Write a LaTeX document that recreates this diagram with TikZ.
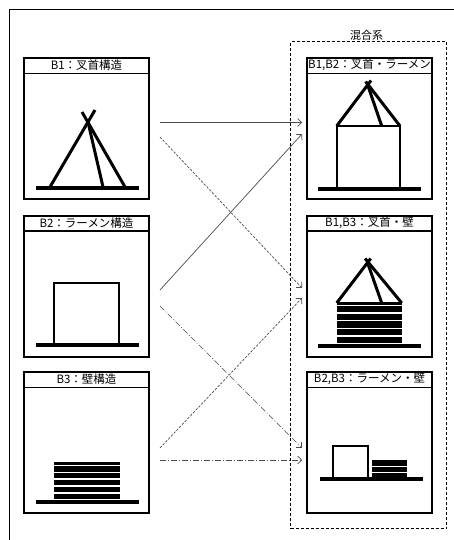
\documentclass[tikz,border=0pt]{standalone}
\usepackage{fontspec}
\setmainfont{Noto Sans CJK JP}
\usetikzlibrary{arrows.meta,positioning}

\begin{document}
\begin{tikzpicture}[x=1pt,y=-1pt,
  panel/.style={draw, line width=2pt, minimum width=125pt, minimum height=141pt, inner sep=0pt},
  heading/.style={anchor=north, minimum width=125pt, minimum height=16pt, inner sep=0pt,
    font=\fontsize{11.5}{13}\selectfont},
  rule/.style={line width=1.3pt},
  leg/.style={line width=3pt},
  post/.style={line width=2.2pt},
  ground/.style={line width=3.8pt},
  flow/.style={-{Straight Barb[length=4pt,width=8pt]}, line width=0.7pt, black!70},
  flowdash/.style={flow, dash pattern=on 2.5pt off 1.5pt},
  flowdot/.style={flow, dash pattern=on 6pt off 2pt on 1pt off 2pt}]
  \useasboundingbox (0,0) rectangle (454,540);

  % outer frame
  \draw[rule] (9.5,540) -- (9.5,9.5) -- (454,9.5);

  % mixed group
  \node[draw, line width=1pt, dash pattern=on 3pt off 2pt, minimum width=156pt, minimum height=487pt] (mix) at (368.7,285.3) {};
  \node[anchor=south, inner sep=0.5pt, xshift=-2pt, font=\fontsize{11}{13}\selectfont] (mixname) at (mix.north) {混合系};

  % panels
  \node[panel] (b1) at (86.5,128.5) {};
  \node[panel] (b2) at (86.5,286) {};
  \node[panel] (b3) at (86.5,442.5) {};
  \node[panel] (r12) at (369.5,128.5) {};
  \node[panel] (r13) at (369.5,286) {};
  \node[panel] (r23) at (369.5,442.5) {};

  \node[heading] (t1) at (b1.north) {B1：叉首構造};
  \node[heading] (t2) at (b2.north) {B2：ラーメン構造};
  \node[heading] (t3) at (b3.north) {B3：壁構造};
  \node[heading] (t12) at (r12.north) {B1,B2：叉首・ラーメン};
  \node[heading] (t13) at (r13.north) {B1,B3：叉首・壁};
  \node[heading] (t23) at (r23.north) {B2,B3：ラーメン・壁};
  \foreach \t in {t1,t2,t3,t12,t13,t23}
    \draw[rule] (\t.south west) -- (\t.south east);

  % B1: sasu
  \draw[leg] (50,187) -- (95,110);
  \draw[leg] (125,187) -- (82,112);
  \draw[leg] (103,187) -- (88,122);
  \draw[ground] (36,188) -- (139,188);

  % B2: rahmen
  \draw[post] (54.3,345) -- (54.3,283) -- (119,283) -- (119,345);
  \draw[ground] (36,345.3) -- (139,345.3);

  % B3: wall
  \fill (54,462) rectangle (120,500.5);
  \foreach \k in {0,...,5}
    \draw[white, line width=1.3pt] (54,465.3+6.9*\k) -- (120,465.3+6.9*\k);
  \draw[ground] (36,502.3) -- (139,502.3);

  % B1,B2
  \draw[leg] (336.7,126) -- (371,80.5);
  \draw[leg] (400,126) -- (365.6,81.5);
  \draw[leg] (381.7,126) -- (367,83);
  \draw[post] (336.7,189) -- (336.7,126) -- (400,126) -- (400,189);
  \draw[ground] (318,189) -- (421,189);

  % B1,B3
  \draw[leg] (336.7,303) -- (370.7,258.5);
  \draw[leg] (401.7,303) -- (365.1,258.5);
  \draw[leg] (381.7,303) -- (368,264);
  \fill (336.7,302) rectangle (401.7,344.5);
  \foreach \k in {0,...,5}
    \draw[white, line width=1.3pt] (336.7,305.3+7.7*\k) -- (401.7,305.3+7.7*\k);
  \draw[ground] (318,346) -- (421,346);

  % B2,B3
  \draw[post] (332.8,478) -- (332.8,445.7) -- (368,445.7) -- (368,478);
  \fill (371.7,460) rectangle (407.3,478);
  \foreach \k in {0,1}
    \draw[white, line width=1.3pt] (371.7,466.2+6.6*\k) -- (407.3,466.2+6.6*\k);
  \draw[ground] (320,479) -- (422.7,479);

  % connectors
  \coordinate (s1a) at (160,122.5);
  \coordinate (s1b) at (160,137);
  \coordinate (s2a) at (160,290);
  \coordinate (s2b) at (160,306);
  \coordinate (s3a) at (160,448);
  \coordinate (s3b) at (160,460);
  \coordinate (e12a) at (302,122.5);
  \coordinate (e12b) at (302,134);
  \coordinate (e13a) at (302,288);
  \coordinate (e13b) at (302,298);
  \coordinate (e23a) at (302,448);
  \coordinate (e23b) at (302,460);

  \draw[flow] (s1a) -- (e12a);
  \draw[flowdash] (s1b) -- (e13a);
  \draw[flow] (s2a) -- (e12b);
  \draw[flowdot] (s2b) -- (e23a);
  \draw[flowdash] (s3a) -- (e13b);
  \draw[flowdot] (s3b) -- (e23b);
\end{tikzpicture}
\end{document}
